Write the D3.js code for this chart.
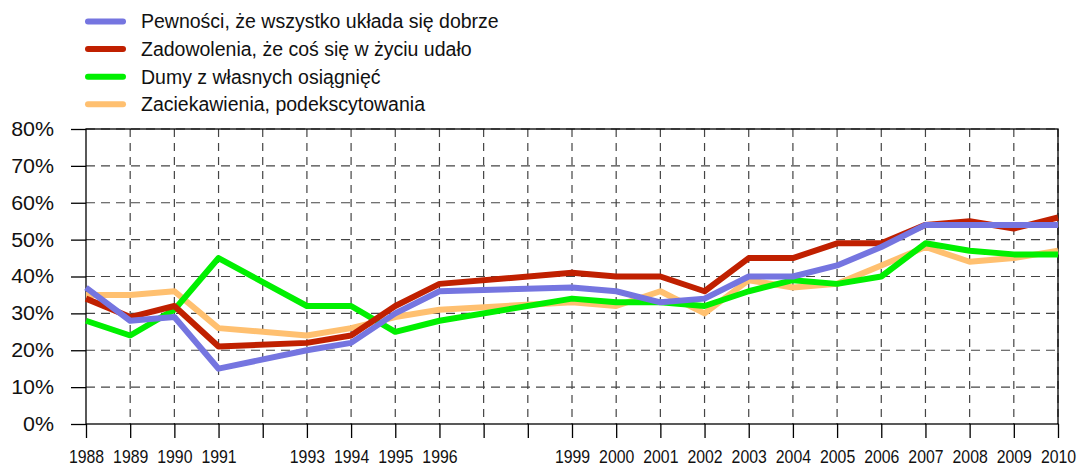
<!DOCTYPE html>
<html>
<head>
<meta charset="utf-8">
<script src="https://d3js.org/d3.v7.min.js"></script>
<style>
  body { margin: 0; background: #fff; }
  text { font-family: "Liberation Sans", Arial, sans-serif; fill: #111; }
</style>
</head>
<body>
<script>

    // lata i serie (w %)
    var years = [1988, 1989, 1990, 1991, 1993, 1994, 1995, 1996, 1999, 2000, 2001, 2002, 2003, 2004, 2005, 2006, 2007, 2008, 2009, 2010];
    var pewnosci     = [37, 28, 29, 15, 20, 22, 30, 36, 37, 36, 33, 34, 40, 40, 43, 48, 54, 54, 54, 54];
    var zadowolenia  = [34, 29, 32, 21, 22, 24, 32, 38, 41, 40, 40, 36, 45, 45, 49, 49, 54, 55, 53, 56];
    var dumy         = [28, 24, 31, 45, 32, 32, 25, 28, 34, 33, 33, 32, 36, 39, 38, 40, 49, 47, 46, 46];
    var zaciekawienia = [35, 35, 36, 26, 24, 26, 29, 31, 33, 32, 36, 30, 39, 37, 38, 43, 48, 44, 45, 47];

    var seriesNames = ["Pewności, że wszystko układa się dobrze", "Zadowolenia, że coś się w życiu udało",
                       "Dumy z własnych osiągnięć", "Zaciekawienia, podekscytowania"];
    var seriesColors = ["#7575e0", "#c02000", "#00f000", "#ffc070"];
    var seriesValues = [pewnosci, zadowolenia, dumy, zaciekawienia];

    var yTicks = [0, 10, 20, 30, 40, 50, 60, 70, 80];
    var gridYears = d3.range(1988, 2011);  // linie siatki co rok, etykiety tylko dla lat z danymi

    var W = 1078, H = 466;
    var mLeft = 86, mRight = 1058, mTop = 129, mBottom = 424;

    var svg = d3.select("body").append("svg")
        .attr("width", W)
        .attr("height", H);

    var x = d3.scaleLinear().domain([1988, 2010]).range([mLeft, mRight]);
    var y = d3.scaleLinear().domain([0, 80]).range([mBottom, mTop]);

    // siatka
    svg.append("g").selectAll("line")
        .data(gridYears.slice(1))
        .enter().append("line")
        .attr("x1", d => x(d)).attr("x2", d => x(d))
        .attr("y1", mTop).attr("y2", mBottom)
        .style("stroke", "#444").style("stroke-width", 1.2)
        .style("stroke-dasharray", "8,6");

    svg.append("g").selectAll("line")
        .data(yTicks.slice(1))
        .enter().append("line")
        .attr("x1", mLeft).attr("x2", mRight)
        .attr("y1", d => y(d)).attr("y2", d => y(d))
        .style("stroke", "#444").style("stroke-width", 1.2)
        .style("stroke-dasharray", "9,6");

    // ramka
    svg.append("rect")
        .attr("x", mLeft).attr("y", mTop)
        .attr("width", mRight - mLeft).attr("height", mBottom - mTop)
        .style("fill", "none").style("stroke", "#000").style("stroke-width", 1.3);

    // osie
    var yAxis = d3.axisLeft(y).tickValues(yTicks).tickSize(15).tickPadding(0)
        .tickFormat(d => d + "%");
    svg.append("g").attr("transform", "translate(" + mLeft + ",0)").call(yAxis)
        .call(g => g.select(".domain").remove())
        .call(g => g.selectAll("line").style("stroke", "#000").style("stroke-width", 1.3))
        .call(g => g.selectAll("text").attr("x", null)
            .attr("transform", "translate(-32,0) scale(1.07,1)")
            .style("font-size", "20px")
            .style("font-family", "Liberation Sans, Arial, sans-serif").attr("fill", "#111"));

    var xAxis = d3.axisBottom(x).tickValues(gridYears).tickSize(14).tickPadding(0)
        .tickFormat(d => years.indexOf(d) >= 0 ? d : "");
    svg.append("g").attr("transform", "translate(0," + mBottom + ")").call(xAxis)
        .call(g => g.select(".domain").remove())
        .call(g => g.selectAll("line").style("stroke", "#000").style("stroke-width", 1.3))
        .call(g => g.selectAll("text").attr("y", null).attr("dy", null)
            .attr("transform", "translate(0,39) scale(0.88,1)")
            .style("font-size", "18px")
            .style("font-family", "Liberation Sans, Arial, sans-serif").attr("fill", "#111"));

    // linie serii (pomarańczowa na spodzie, niebieska na wierzchu)
    var line = d3.line()
        .x((d, i) => x(years[i]))
        .y(d => y(d));

    [3, 2, 1, 0].forEach(function(k) {
        svg.append("path")
            .attr("d", line(seriesValues[k]))
            .style("fill", "none")
            .style("stroke", seriesColors[k])
            .style("stroke-width", 6)
            .style("stroke-linejoin", "round");
    });

    // legenda
    var legend = svg.append("g").selectAll("g")
        .data(seriesNames)
        .enter().append("g")
        .attr("transform", (d, i) => "translate(0," + (21.5 + i * 27.6) + ")");

    legend.append("line")
        .attr("x1", 88).attr("x2", 123)
        .attr("y1", 0).attr("y2", 0)
        .style("stroke", (d, i) => seriesColors[i])
        .style("stroke-width", 6)
        .style("stroke-linecap", "round");

    legend.append("text")
        .attr("x", 141).attr("y", 0)
        .attr("dy", "0.35em")
        .style("font-size", "19.5px")
        .text(d => d);

</script>
</body>
</html>
